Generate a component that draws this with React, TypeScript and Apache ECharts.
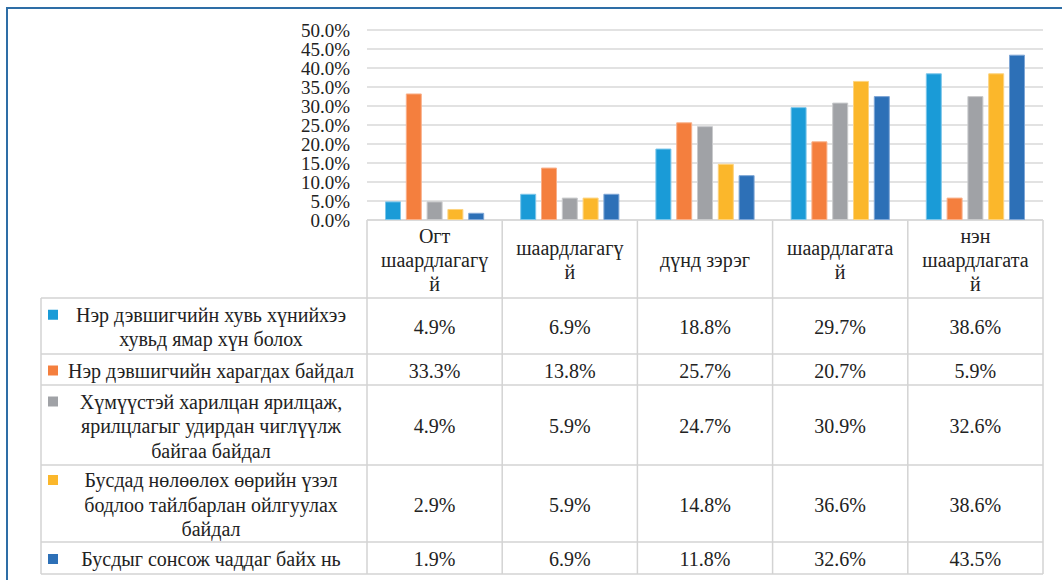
import React, { useEffect, useRef } from "react";
import * as echarts from "echarts";

const categories = [
  "Огт\nшаардлагагү\nй",
  "шаардлагагү\nй",
  "дүнд зэрэг",
  "шаардлагата\nй",
  "нэн\nшаардлагата\nй",
];

const seriesNames = [
  "Нэр дэвшигчийн хувь хүнийхээ\nхувьд ямар хүн болох",
  "Нэр дэвшигчийн харагдах байдал",
  "Хүмүүстэй харилцан ярилцаж,\nярилцлагыг удирдан чиглүүлж\nбайгаа байдал",
  "Бусдад нөлөөлөх өөрийн үзэл\nбодлоо тайлбарлан ойлгуулах\nбайдал",
  "Бусдыг сонсож чаддаг байх нь",
];

const seriesA = [4.9, 6.9, 18.8, 29.7, 38.6];
const seriesB = [33.3, 13.8, 25.7, 20.7, 5.9];
const seriesC = [4.9, 5.9, 24.7, 30.9, 32.6];
const seriesD = [2.9, 5.9, 14.8, 36.6, 38.6];
const seriesE = [1.9, 6.9, 11.8, 32.6, 43.5];

const allSeries = [seriesA, seriesB, seriesC, seriesD, seriesE];

const colors = ["#1A9BD7", "#F47F3E", "#A0A2A6", "#FBB72B", "#2D70B7"];
const borderColors = ["#7CC6EA", "#F9B08A", "#C9CACC", "#FDD37E", "#7EA6D6"];

const W = 1062;
const H = 580;
const GRID_L = 367;
const GRID_R = 1043;
const GRID_T = 30;
const GRID_B = 220;
const HEADER_B = 298;
const ROW_B = [354, 385, 465, 542, 574];
const LEG_L = 41;
const FONT = "Liberation Serif";
const FS = 20;
const LINE_COLOR = "#D3D3D3";

export default function App() {
  const ref = useRef<HTMLDivElement>(null);

  useEffect(() => {
    if (!ref.current) return;
    const chart = echarts.init(ref.current, null, { renderer: "svg" });
    const colW = (GRID_R - GRID_L) / categories.length;

    const graphics: any[] = [];
    graphics.push({
      type: "polyline",
      shape: { points: [[7, H + 2], [7, 8], [W + 2, 8]] },
      style: { stroke: "#2E6EA6", lineWidth: 2, fill: null },
      silent: true,
    });

    const ln = (x1: number, y1: number, x2: number, y2: number) => ({
      type: "line",
      shape: { x1, y1, x2, y2 },
      style: { stroke: LINE_COLOR, lineWidth: 1.5 },
      silent: true,
    });

    graphics.push(ln(GRID_L, GRID_B, GRID_R, GRID_B));
    for (let i = 0; i <= categories.length; i++) {
      const x = GRID_L + colW * i;
      graphics.push(ln(x, GRID_B, x, ROW_B[ROW_B.length - 1]));
    }
    graphics.push(ln(LEG_L, HEADER_B, GRID_R, HEADER_B));
    ROW_B.forEach((y) => graphics.push(ln(LEG_L, y, GRID_R, y)));
    graphics.push(ln(LEG_L, HEADER_B, LEG_L, ROW_B[ROW_B.length - 1]));

    const txt = (x: number, y: number, text: string, lh?: number) => ({
      type: "text",
      x,
      y,
      style: {
        text,
        fontFamily: FONT,
        fontSize: FS,
        fill: "#222",
        textAlign: "center",
        textVerticalAlign: "middle",
        verticalAlign: "middle",
        lineHeight: lh || 24,
      },
      silent: true,
    });

    categories.forEach((c, i) => {
      graphics.push(txt(GRID_L + colW * (i + 0.5), (GRID_B + HEADER_B) / 2 + 1, c, 24));
    });

    const tops = [HEADER_B, ...ROW_B.slice(0, -1)];
    seriesNames.forEach((name, r) => {
      const top = tops[r];
      const bot = ROW_B[r];
      const cy = (top + bot) / 2;
      const nLines = name.split("\n").length;
      const lh = 24.5;
      const firstY = cy - ((nLines - 1) * lh) / 2;
      graphics.push({
        type: "rect",
        shape: { x: 48, y: firstY - 4, width: 10, height: 10 },
        style: { fill: colors[r] },
        silent: true,
      });
      graphics.push(txt(211, cy + 1, name, lh));
      allSeries[r].forEach((v, i) => {
        graphics.push(txt(GRID_L + colW * (i + 0.5), cy + 1, v.toFixed(1) + "%"));
      });
    });

    chart.setOption({
      animation: false,
      grid: {
        left: GRID_L,
        right: W - GRID_R,
        top: GRID_T,
        bottom: H - GRID_B,
        containLabel: false,
      },
      xAxis: {
        type: "category",
        data: categories,
        axisLabel: { show: false },
        axisTick: { show: false },
        axisLine: { show: false },
      },
      yAxis: {
        type: "value",
        min: 0,
        max: 50,
        interval: 5,
        axisLabel: {
          formatter: (v: number) => v.toFixed(1) + "%",
          fontFamily: FONT,
          fontSize: 19,
          lineHeight: 18,
          color: "#222",
          margin: 17,
          hideOverlap: false,
          showMinLabel: true,
          showMaxLabel: true,
        },
        axisLine: { show: false },
        axisTick: { show: false },
        splitLine: { lineStyle: { color: "#D9D9D9", width: 1.5 } },
      },
      series: allSeries.map((data, i) => ({
        name: seriesNames[i],
        type: "bar",
        data,
        barWidth: 16,
        barGap: "30%",
        itemStyle: {
          color: colors[i],
          borderColor: borderColors[i],
          borderWidth: 1,
        },
      })),
      graphic: graphics,
    });

    return () => chart.dispose();
  }, []);

  return (
    <div
      ref={ref}
      style={{ position: "fixed", left: 0, top: 0, width: W, height: H, background: "#fff" }}
    />
  );
}
